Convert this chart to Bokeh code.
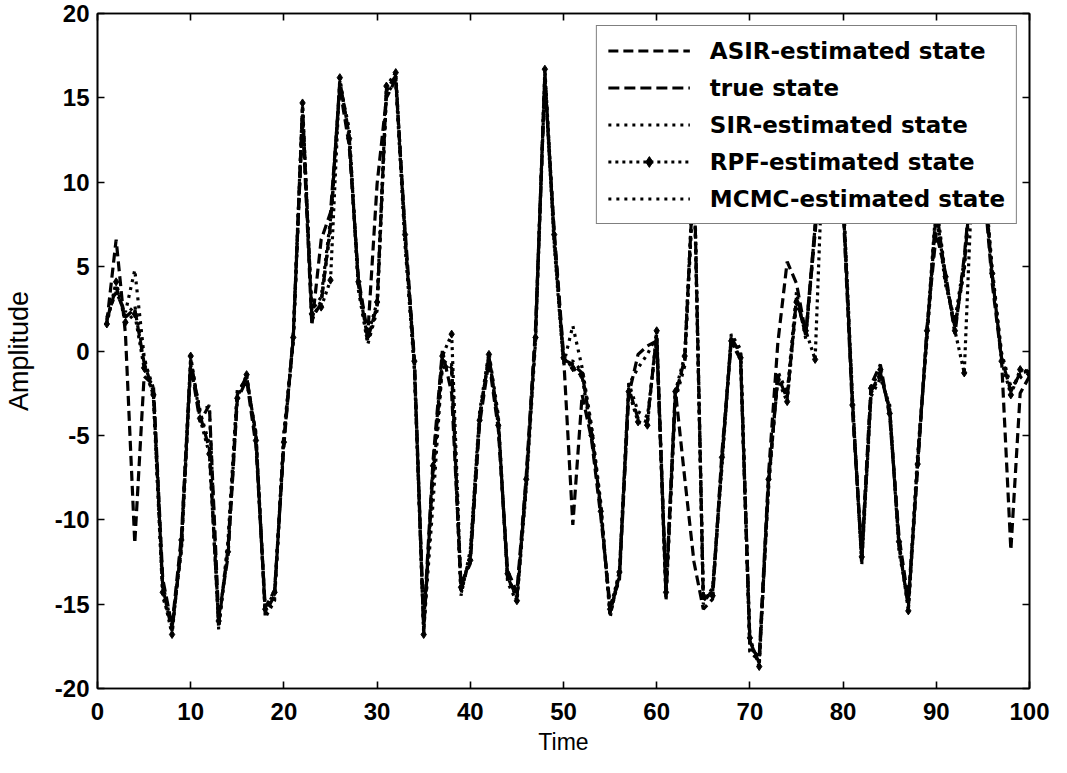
from bokeh.plotting import figure
from bokeh.models import (Range1d, LinearAxis, SingleIntervalTicker, Legend, LegendItem,
                          ColumnDataSource, PrintfTickFormatter)
from bokeh.embed import file_html
from bokeh.resources import INLINE

TIME = list(range(1, 101))

TRUE_STATE = [1.8, 3.8, 2.0, 2.5, -0.7, -2.4, -14.0, -16.6, -11.5, -0.5,
              -3.8, -5.8, -16.2, -11.7, -2.6, -1.5, -5.1, -15.5, -14.5, -5.2,
              0.7, 14.5, 2.0, 2.8, 7.5, 16.0, 12.8, 3.9, 0.7, 2.7,
              15.5, 16.3, 6.7, -0.8, -16.6, -7.0, -0.5, -1.0, -14.2, -12.2,
              -3.9, -0.3, -4.2, -13.4, -14.6, -7.8, 1.0, 16.5, 6.7, -0.5,
              -0.8, -1.3, -4.8, -9.3, -15.5, -13.3, -2.2, -4.0, -4.2, 1.0,
              -14.5, -2.6, -0.5, 11.0, -14.7, -14.3, -6.5, 0.8, -0.2, -17.2,
              -18.5, -7.8, -1.5, -2.8, 3.1, 1.0, 7.5, 14.0, 15.0, 9.0,
              -3.0, -12.4, -2.4, -1.3, -3.5, -11.5, -15.2, -6.5, 1.0, 8.5,
              4.2, 1.4, 5.0, 12.0, 11.0, 4.5, -0.4, -2.4, -1.3, -1.2]

ASIR = [1.7, 6.6, 1.0, -11.4, -1.5, -2.0, -13.5, -16.3, -11.0, -0.8,
        -4.2, -3.2, -15.8, -12.2, -2.9, -1.7, -5.6, -15.2, -14.2, -5.6,
        0.9, 13.8, 1.5, 6.6, 8.2, 15.6, 12.2, 4.3, 1.0, 9.9,
        15.0, 16.1, 7.2, -0.5, -16.2, -6.5, 0.0, -2.5, -13.8, -12.6,
        -4.3, -0.6, -4.6, -13.0, -14.3, -7.4, 1.4, 16.0, 7.2, -0.2,
        -10.3, -2.6, -5.2, -9.8, -15.1, -13.6, -2.6, -0.2, 0.3, 0.6,
        -14.1, -2.3, -7.5, -12.5, -15.3, -14.7, -6.0, 0.5, -0.5, -17.6,
        -18.1, -7.3, 0.5, 5.3, 4.0, 1.0, 7.0, 13.5, 14.5, 8.5,
        -3.5, -12.0, -2.0, -0.8, -3.9, -11.0, -14.8, -6.9, 1.4, 7.0,
        4.6, 1.0, 5.6, 11.5, 10.5, 4.0, -0.5, -11.8, -2.5, -1.5]

SIR = [2.0, 3.5, 2.3, 4.8, -0.3, -2.8, -14.6, -16.2, -11.9, -0.9,
       -3.5, -3.3, -16.5, -11.3, -2.3, -1.8, -4.8, -15.8, -14.8, -4.8,
       0.5, 14.0, 2.4, 3.2, 7.8, 15.8, 13.2, 3.6, 0.4, 2.4,
       15.2, 16.0, 6.3, -1.1, -16.3, -7.6, -1.0, -0.8, -14.5, -11.8,
       -3.6, -0.1, -3.8, -13.7, -14.9, -8.2, 0.6, 16.2, 6.3, -0.8,
       1.5, -1.0, -4.4, -9.0, -15.8, -13.0, -1.9, -3.6, -3.9, 0.7,
       -14.8, -2.9, -0.9, 10.5, -15.0, -14.0, -6.9, 1.0, 0.1, -17.8,
       -18.2, -8.2, -1.2, -2.5, 3.5, 0.7, 7.2, 13.5, 14.6, 9.5,
       -2.6, -12.7, -2.7, -1.6, -3.2, -11.9, -14.9, -6.1, 0.7, 8.0,
       3.9, 1.8, 5.4, 11.6, 11.4, 4.9, -0.1, -2.1, -1.6, -0.9]

RPF = [1.6, 4.1, 1.7, 2.2, -1.0, -2.6, -14.3, -16.8, -11.2, -0.3,
       -4.0, -6.1, -16.0, -11.9, -2.8, -1.4, -5.3, -15.3, -14.3, -5.4,
       0.8, 14.7, 2.2, 2.6, 4.2, 16.2, 12.6, 4.1, 0.9, 2.9,
       15.7, 16.5, 6.9, -0.6, -16.8, -6.8, -0.3, 1.0, -14.0, -12.4,
       -4.1, -0.2, -4.4, -13.2, -14.8, -7.6, 0.8, 16.7, 6.9, -0.4,
       -1.0, -1.5, -5.0, -9.5, -15.3, -13.1, -2.4, -4.2, -4.4, 1.2,
       -14.3, -2.4, -0.3, 11.3, -14.5, -14.5, -6.3, 0.6, -0.4, -17.0,
       -18.7, -7.6, -1.7, -3.0, 2.9, 1.2, -0.5, 14.3, 15.3, 9.2,
       -3.2, -12.2, -2.2, -1.1, -3.7, -11.3, -15.4, -6.7, 1.2, 8.8,
       4.4, 1.2, -1.3, 12.3, 11.2, 4.6, -0.6, -2.6, -1.1, -1.4]

MCMC = [1.9, 3.6, 2.1, 2.7, -0.5, -2.2, -13.8, -16.4, -11.7, -0.6,
        -3.6, -5.5, -16.4, -11.5, -2.5, -1.6, -4.9, -15.6, -14.6, -5.0,
        0.6, 14.3, 1.8, 3.0, 7.2, 15.9, 12.9, 3.8, 0.6, 2.6,
        15.4, 16.2, 6.5, -0.9, -16.5, -9.0, -0.7, -1.2, -14.4, -12.0,
        -3.8, -0.4, -4.0, -13.5, -14.5, -8.0, 1.1, 16.4, 6.5, -0.6,
        -0.6, -1.2, -4.6, -9.2, -15.6, -13.4, -2.0, -1.0, -0.2, 0.9,
        -14.6, -2.7, -0.6, 10.8, -14.8, -14.2, -6.6, 0.9, -0.1, -17.8,
        -18.4, -7.9, -1.4, -2.7, 3.2, 0.9, 7.4, 13.8, 14.8, 8.8,
        -2.9, -12.5, -2.5, -1.4, -3.4, -11.6, -15.1, -6.4, 0.9, 8.3,
        4.1, 1.5, 4.8, 11.8, 10.8, 4.4, -0.3, -2.3, -1.4, -1.1]

LABELS = ["ASIR-estimated state", "true state", "SIR-estimated state",
          "RPF-estimated state", "MCMC-estimated state"]

TICK_FONT = "Liberation Sans"
LABEL_FONT = "Liberation Sans"
LEGEND_FONT = "DejaVu Sans"

src = ColumnDataSource(dict(t=TIME, true=TRUE_STATE, asir=ASIR, sir=SIR, rpf=RPF, mcmc=MCMC))

p = figure(width=1051, height=757, x_range=Range1d(0, 100), y_range=Range1d(-20, 20),
           output_backend="svg", toolbar_location=None,
           min_border_left=96, min_border_right=22, min_border_top=13, min_border_bottom=65)
p.background_fill_color = "white"
p.border_fill_color = "white"
p.grid.visible = False
p.outline_line_color = "black"
p.outline_line_width = 1.6

def style_axis(ax, show_labels=True):
    ax.major_tick_in = 7
    ax.major_tick_out = 0
    ax.minor_tick_in = 0
    ax.minor_tick_out = 0
    ax.axis_line_color = "black"
    ax.axis_line_width = 1.6
    ax.major_tick_line_width = 1.6
    ax.major_tick_line_color = "black"
    if show_labels:
        ax.major_label_text_font = TICK_FONT
        ax.major_label_text_font_size = "24px"
        ax.major_label_text_font_style = "bold"
        ax.major_label_text_color = "black"
        ax.axis_label_text_font = LABEL_FONT
        ax.axis_label_text_font_style = "normal"
        ax.axis_label_text_color = "black"
    else:
        ax.major_label_text_font_size = "1px"
        ax.major_label_text_color = None
        ax.major_label_standoff = 0

p.xaxis.ticker = SingleIntervalTicker(interval=10)
p.yaxis.ticker = SingleIntervalTicker(interval=5)
p.xaxis.formatter = PrintfTickFormatter(format="%d")
p.yaxis.formatter = PrintfTickFormatter(format="%d")
p.xaxis.axis_label = "Time"
p.yaxis.axis_label = "Amplitude"
style_axis(p.xaxis[0])
style_axis(p.yaxis[0])
p.xaxis.axis_label_text_font_size = "23px"
p.yaxis.axis_label_text_font_size = "27px"
p.xaxis.major_label_standoff = 14
p.xaxis.axis_label_standoff = 6
p.yaxis.major_label_standoff = 8
p.yaxis.axis_label_standoff = 18

top_ax = LinearAxis(ticker=SingleIntervalTicker(interval=10))
style_axis(top_ax, show_labels=False)
p.add_layout(top_ax, "above")
right_ax = LinearAxis(ticker=SingleIntervalTicker(interval=5))
style_axis(right_ax, show_labels=False)
p.add_layout(right_ax, "right")

LW = 3.2
r_true = p.line("t", "true", source=src, line_color="black", line_width=LW, line_dash="11 5")
r_asir = p.line("t", "asir", source=src, line_color="black", line_width=LW, line_dash="10 5")
r_sir = p.line("t", "sir", source=src, line_color="black", line_width=LW, line_dash="3 5")
r_rpf = p.line("t", "rpf", source=src, line_color="black", line_width=LW, line_dash="3 4")
r_rpf_m = p.scatter("t", "rpf", source=src, marker="diamond", size=8, fill_color="black", line_color="black")
r_mcmc = p.line("t", "mcmc", source=src, line_color="black", line_width=LW, line_dash="3 5")

legend = Legend(items=[
    LegendItem(label=LABELS[0], renderers=[r_asir]),
    LegendItem(label=LABELS[1], renderers=[r_true]),
    LegendItem(label=LABELS[2], renderers=[r_sir]),
    LegendItem(label=LABELS[3], renderers=[r_rpf, r_rpf_m]),
    LegendItem(label=LABELS[4], renderers=[r_mcmc]),
], location="top_right")
legend.margin = 12
legend.padding = 11
legend.spacing = 10
legend.glyph_width = 82
legend.glyph_height = 27
legend.label_height = 27
legend.label_standoff = 20
legend.label_text_font = LEGEND_FONT
legend.label_text_font_size = "23px"
legend.label_text_font_style = "bold"
legend.label_text_color = "black"
legend.border_line_color = "black"
legend.border_line_width = 1.6
legend.background_fill_color = "white"
legend.background_fill_alpha = 1.0
p.add_layout(legend)

open("out.html", "w").write(file_html(p, INLINE))
